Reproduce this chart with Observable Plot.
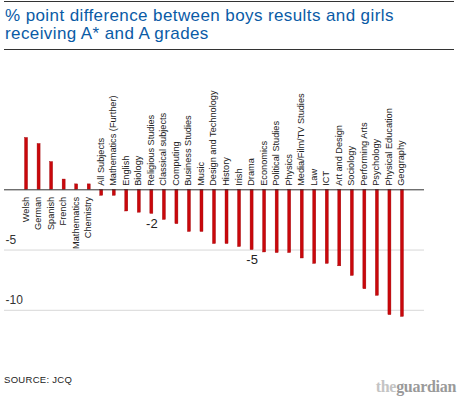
<!DOCTYPE html>
<html>
<head>
<meta charset="utf-8">
<script src="https://cdn.jsdelivr.net/npm/d3@7"></script>
<script src="https://cdn.jsdelivr.net/npm/@observablehq/plot@0.6"></script>
<style>
  html, body { margin: 0; padding: 0; background: #fff; }
  body { width: 459px; height: 397px; position: relative; overflow: hidden; font-family: "Liberation Sans", Arial, sans-serif; }
  #head { position: absolute; left: 4px; top: 1px; width: 450px; border-top: 1px solid #333; border-bottom: 1px solid #333; padding: 5px 0 6px 0; }
  #title { margin: 0 0 0 1px; font-size: 17px; line-height: 18px; font-weight: normal; color: #0a5ba6; letter-spacing: 0.4px; }
  #chart { position: absolute; left: 0; top: 52px; }
  #source { position: absolute; left: 4px; top: 374px; font-size: 9.5px; color: #222; letter-spacing: 0.3px; }
  #logo { position: absolute; right: 3px; top: 378px; font-family: "Liberation Serif", Georgia, serif; font-weight: bold; font-size: 16px; letter-spacing: -0.3px; }
  #logo .the { color: #c4c4c4; }
  #logo .g { color: #9a9a9a; }
</style>
</head>
<body>
<div id="head"><div id="title">% point difference between boys results and girls receiving A* and A grades</div></div>
<div id="chart"></div>
<div id="source">SOURCE: JCQ</div>
<div id="logo"><span class="the">the</span><span class="g">guardian</span></div>
<script>
const subjects = ["Welsh", "German", "Spanish", "French", "Mathematics", "Chemistry", "All Subjects", "Mathematics (Further)", "English", "Biology", "Religious Studies", "Classical subjects", "Computing", "Business Studies", "Music", "Design and Technology", "History", "Irish", "Drama", "Economics", "Political Studies", "Physics", "Media/Film/TV Studies", "Law", "ICT", "Art and Design", "Sociology", "Performing Arts", "Psychology", "Physical Education", "Geography"];
const values = [4.3, 3.8, 2.3, 0.85, 0.45, 0.45, -0.5, -0.5, -1.8, -1.9, -2.0, -2.5, -2.85, -3.5, -3.5, -4.5, -4.5, -4.75, -5.0, -5.2, -5.25, -5.25, -5.7, -6.15, -6.15, -6.35, -7.15, -8.25, -8.8, -10.4, -10.55];
const gridValues = [-5, -10];
const tickLabels = ["-5", "-10"];
const annotSubjects = ["Religious Studies", "Drama"];
const annotLabels = ["-2", "-5"];

const data = subjects.map((s, i) => ({subject: s, value: values[i]}));
const grid = gridValues.map((v, i) => ({value: v, label: tickLabels[i]}));
const annots = annotSubjects.map((s, i) => ({subject: s, value: values[subjects.indexOf(s)], label: annotLabels[i]}));

const chart = Plot.plot({
  width: 459,
  height: 300,
  marginLeft: 4,
  marginRight: 35,
  marginTop: 65,
  marginBottom: 18.1,
  style: {fontFamily: "'Liberation Sans', Arial, sans-serif", background: "#fff", color: "#222"},
  x: {type: "band", domain: subjects, paddingInner: 0.76, paddingOuter: 1.64, round: false, axis: null},
  y: {domain: [-12, 6], axis: null},
  marks: [
    Plot.ruleY(grid, {y: "value", stroke: "#d8d8d8", strokeWidth: 1}),
    Plot.text(grid, {y: "value", text: "label", frameAnchor: "left", textAnchor: "start", dx: 1, dy: -10, fontSize: 12, fill: "#333"}),
    Plot.barY(data, {x: "subject", y: "value", fill: "#c9070b", stroke: "#9e0005", strokeWidth: 0.4}),
    Plot.ruleY([0], {stroke: "#333", strokeWidth: 1}),
    Plot.text(data.filter(d => d.value >= 0), {x: "subject", y: 0, text: "subject", rotate: -90, textAnchor: "end", dy: 7, dx: -1, fontSize: 9.2, fill: "#222"}),
    Plot.text(data.filter(d => d.value < 0), {x: "subject", y: 0, text: "subject", rotate: -90, textAnchor: "start", dy: -4, dx: -1, fontSize: 9.2, fill: "#222"}),
    Plot.text(annots, {x: "subject", y: "value", text: "label", dy: 10, fontSize: 13, fill: "#222"})
  ]
});
document.getElementById("chart").appendChild(chart);
</script>
</body>
</html>
